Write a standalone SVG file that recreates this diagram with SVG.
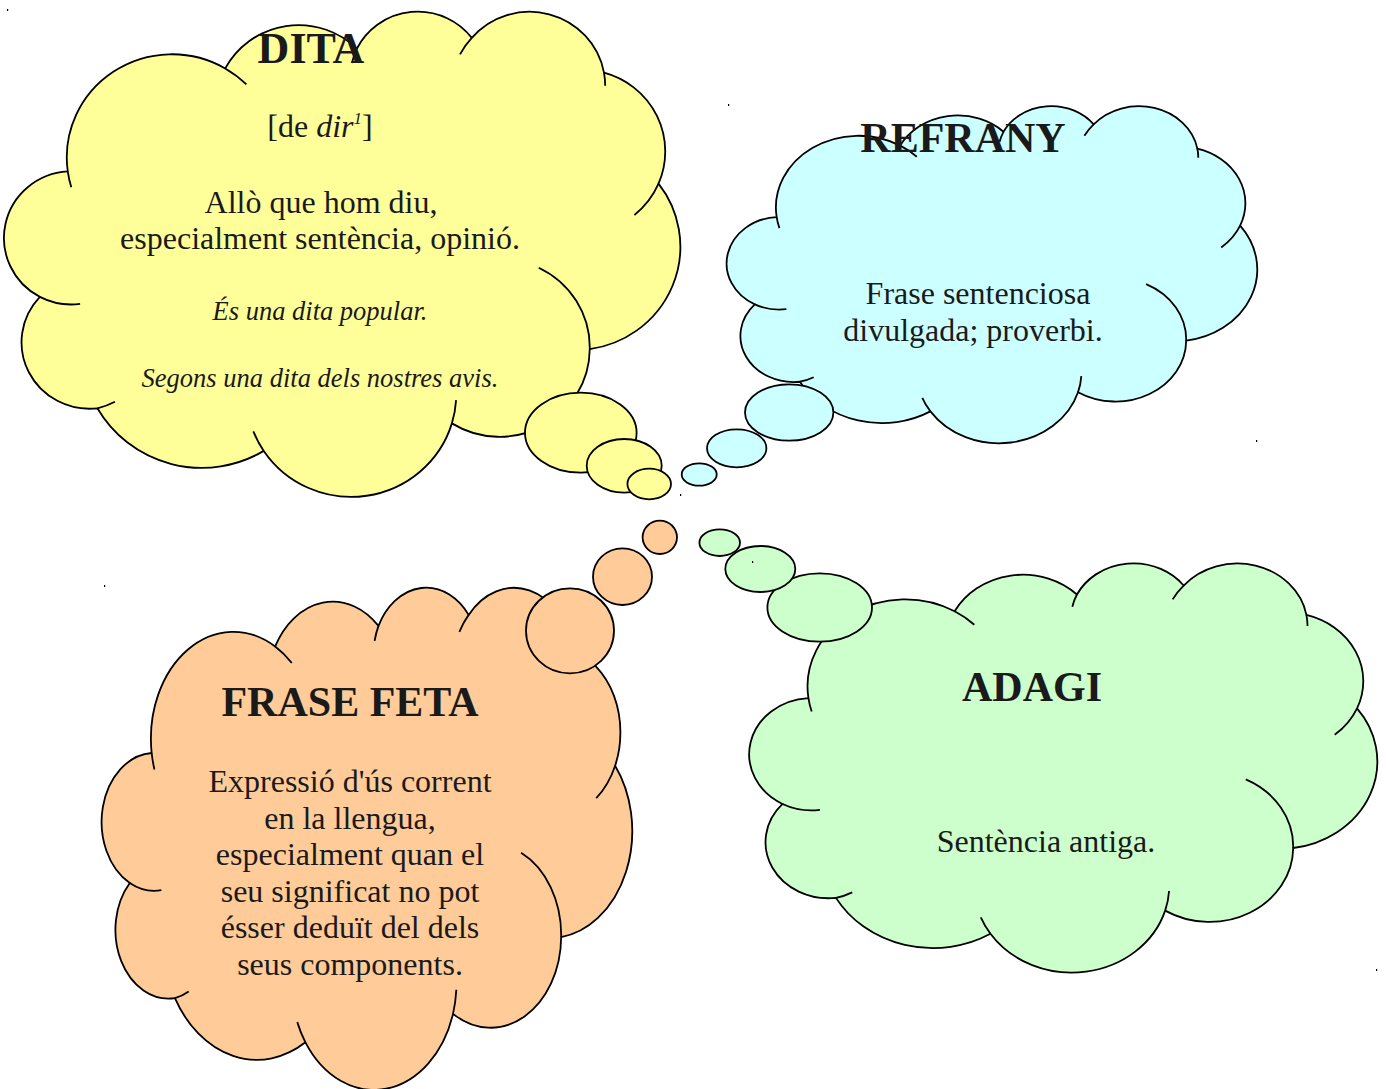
<svg xmlns="http://www.w3.org/2000/svg" xmlns:xlink="http://www.w3.org/1999/xlink" width="1386" height="1089" viewBox="0 0 1386 1089">
<style>
.cp{stroke:#000;stroke-width:1.8px;vector-effect:non-scaling-stroke;stroke-linejoin:round}
.hp{fill:none;stroke:#000;stroke-width:1.8px;vector-effect:non-scaling-stroke}
.bb{stroke:#000;stroke-width:1.8}
.y{fill:#FFFF99}.b{fill:#CCFFFF}.o{fill:#FFCC99}.g{fill:#CCFFCC}
text{font-family:"Liberation Serif","Times New Roman",serif;fill:#1a1a1a;text-anchor:middle}
.t{font-weight:bold;font-size:42px}
.x{font-size:32px}
.i{font-style:italic;font-size:26.5px}
.m{fill:#000}
</style>
<defs>
<path id="cloud" class="cp" vector-effect="non-scaling-stroke" d="M3900 14370 A6753 9190 0 0 1 14006 5203 A5333 7267 0 0 1 22459 3436 A4365 5945 0 0 1 29836 2486 A4857 6595 0 0 1 38320 5583 A5333 7273 0 0 1 41820 15467 A6775 9220 0 0 1 37406 30210 A5785 7867 0 0 1 28557 36820 A6752 9215 0 0 1 16481 39271 A7720 10543 0 0 1 5803 35475 A4360 5918 0 0 1 2110 25555 A4345 5945 0 0 1 3900 14370 Z"/>
<path id="hooks" class="hp" vector-effect="non-scaling-stroke" d="M4693 26177 A4345 5945 0 0 1 2110 25555 M6928 34899 A4360 5918 0 0 1 5803 35475 M16481 39271 A6752 9215 0 0 1 15814 37532 M28827 34751 A6752 9215 0 0 1 28557 36820 M34129 22954 A5785 7867 0 0 1 37406 30210 M41820 15467 A5333 7273 0 0 1 40275 18253 M38320 5583 A4857 6595 0 0 1 38397 6752 M29078 3952 A4857 6595 0 0 1 29836 2486 M22141 4720 A4365 5945 0 0 1 22459 3436 M14006 5203 A6753 9190 0 0 1 15367 6632 M4127 15789 A6753 9190 0 0 1 3900 14370"/>
</defs>

<g id="dita">
<use xlink:href="#cloud" href="#cloud" class="y" transform="translate(7 10) scale(0.015579 0.011227)"/>
<use xlink:href="#hooks" href="#hooks" transform="translate(7 10) scale(0.015579 0.011227)"/>
<ellipse class="bb y" cx="580.8" cy="432.7" rx="55.8" ry="40"/>
<ellipse class="bb y" cx="624.2" cy="465.8" rx="37.5" ry="26.8"/>
<ellipse class="bb y" cx="649.2" cy="484" rx="21.8" ry="15.3"/>
<text class="t" x="311" y="63" style="font-size:44px">DITA</text>
<text class="x" x="320" y="137">[de <tspan font-style="italic">dir</tspan><tspan font-style="italic" font-size="17" dy="-13">1</tspan><tspan dy="13">]</tspan></text>
<text class="x" x="321" y="213">Allò que hom diu,</text>
<text class="x" x="320" y="249">especialment sentència, opinió.</text>
<text class="i" x="320" y="320">És una dita popular.</text>
<text class="i" x="320" y="387">Segons una dita dels nostres avis.</text>
</g>

<g id="refrany">
<use xlink:href="#cloud" href="#cloud" class="b" transform="translate(729 105) scale(0.012222 0.0078009)"/>
<use xlink:href="#hooks" href="#hooks" transform="translate(729 105) scale(0.012222 0.0078009)"/>
<ellipse class="bb b" cx="789.2" cy="412.5" rx="44.2" ry="28.2"/>
<ellipse class="bb b" cx="736.7" cy="448.3" rx="29.7" ry="19"/>
<ellipse class="bb b" cx="699.2" cy="474.5" rx="17.5" ry="11.2"/>
<text class="t" x="963" y="152">REFRANY</text>
<text class="x" x="978" y="304">Frase sentenciosa</text>
<text class="x" x="973" y="341">divulgada; proverbi.</text>
</g>

<g id="frase-feta">
<use xlink:href="#cloud" href="#cloud" class="o" transform="translate(104 586) scale(0.012222 0.011620)"/>
<use xlink:href="#hooks" href="#hooks" transform="translate(104 586) scale(0.012222 0.011620)"/>
<ellipse class="bb o" cx="570" cy="630.8" rx="44" ry="42.5"/>
<ellipse class="bb o" cx="622.5" cy="576.7" rx="29.5" ry="28.3"/>
<ellipse class="bb o" cx="659.8" cy="537.3" rx="17.2" ry="16.7"/>
<text class="t" x="350" y="716">FRASE FETA</text>
<text class="x" x="350" y="792">Expressió d'ús corrent</text>
<text class="x" x="350" y="828.5">en la llengua,</text>
<text class="x" x="350" y="865">especialment quan el</text>
<text class="x" x="350" y="901.5">seu significat no pot</text>
<text class="x" x="350" y="938">ésser deduït del dels</text>
<text class="x" x="350" y="975">seus components.</text>
</g>

<g id="adagi">
<use xlink:href="#cloud" href="#cloud" class="g" transform="translate(752 562) scale(0.014468 0.0094676)"/>
<use xlink:href="#hooks" href="#hooks" transform="translate(752 562) scale(0.014468 0.0094676)"/>
<ellipse class="bb g" cx="819.7" cy="607.5" rx="52.3" ry="34.2"/>
<ellipse class="bb g" cx="760.3" cy="569" rx="35" ry="23"/>
<ellipse class="bb g" cx="719.7" cy="542.7" rx="20.3" ry="13.3"/>
<text class="t" x="1032" y="701">ADAGI</text>
<text class="x" x="1046" y="852">Sentència antiga.</text>
</g>

<g id="marks">
<rect class="m" x="7" y="9" width="1.2" height="2"/>
<rect class="m" x="728" y="104" width="1.2" height="2"/>
<rect class="m" x="680" y="494" width="1.2" height="2"/>
<rect class="m" x="1256" y="440" width="1.2" height="2"/>
<rect class="m" x="104" y="585" width="1.2" height="2"/>
<rect class="m" x="752" y="561" width="1.2" height="2"/>
<rect class="m" x="1376" y="969" width="1.2" height="2"/>
</g>
</svg>
